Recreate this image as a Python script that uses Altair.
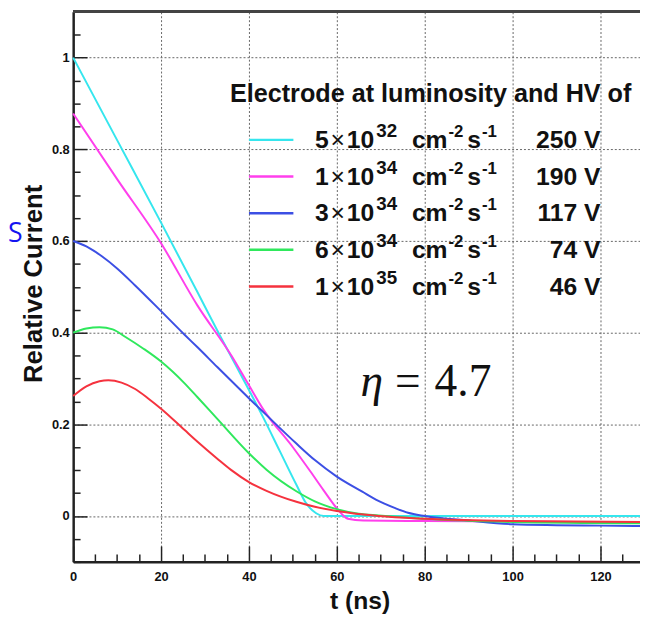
import altair as alt
import pandas as pd

# ---------------- data ----------------
series_names = ["5e32 250 V", "1e34 190 V", "3e34 117 V", "6e34 74 V", "1e35 46 V"]
series_colors = ["#35e6ee", "#ff3fec", "#3c4fe4", "#2fe85c", "#f5323e"]

t_250 = [0, 10, 20, 28.3, 33.6, 40, 43.3, 47, 50.8, 53, 55.3, 57, 70, 90, 110, 129]
v_250 = [1.0, 0.82, 0.64, 0.488, 0.39, 0.275, 0.214, 0.142, 0.068, 0.028, 0.006, 0.0, 0.0, 0.0, 0.0, 0.0]

t_190 = [0, 10, 20, 28.3, 36, 40, 43.3, 50, 54, 57, 60, 62.5, 66, 80, 100, 129]
v_190 = [0.878, 0.735, 0.595, 0.459, 0.35, 0.285, 0.232, 0.15, 0.097, 0.056, 0.017, -0.006, -0.010, -0.011, -0.012, -0.014]

t_117 = [0, 3, 6.6, 10, 14.1, 20, 25.3, 28.3, 32.8, 40, 44, 50.8, 55, 60, 65.8, 69, 73.3, 76.2, 80, 90, 100, 110, 120, 129]
v_117 = [0.6, 0.588, 0.566, 0.54, 0.503, 0.447, 0.396, 0.368, 0.325, 0.257, 0.22, 0.158, 0.122, 0.086, 0.053, 0.035, 0.017, 0.007, 0.0, -0.010, -0.018, -0.020, -0.021, -0.022]

t_74 = [0, 3, 6, 9, 12, 16, 20, 25.3, 28.3, 32.8, 40, 44, 50.8, 55, 60, 65, 69.5, 80, 100, 129]
v_74 = [0.4, 0.409, 0.412, 0.407, 0.39, 0.365, 0.337, 0.29, 0.259, 0.212, 0.137, 0.101, 0.054, 0.032, 0.015, 0.005, 0.001, -0.006, -0.013, -0.016]

t_46 = [0, 3, 6, 8, 11, 14.1, 17, 20, 25.3, 28.3, 32.8, 36, 40, 44, 50.8, 55, 60, 69.5, 80, 100, 129]
v_46 = [0.262, 0.283, 0.294, 0.296, 0.291, 0.277, 0.257, 0.234, 0.188, 0.162, 0.125, 0.1, 0.074, 0.055, 0.031, 0.02, 0.011, 0.0, -0.006, -0.011, -0.013]

lum_mantissa = ["5", "1", "3", "6", "1"]
lum_exponent = ["32", "34", "34", "34", "35"]
hv_labels = ["250 V", "190 V", "117 V", "74 V", "46 V"]
legend_title = "Electrode at luminosity and HV of"

x_major = [0, 20, 40, 60, 80, 100, 120]
y_major = [0, 0.2, 0.4, 0.6, 0.8, 1.0]
x_minor = list(range(0, 130, 5))
y_minor = [round(-0.1 + 0.05 * i, 2) for i in range(25)]

# ---------------- build ----------------
all_t = [t_250, t_190, t_117, t_74, t_46]
all_v = [v_250, v_190, v_117, v_74, v_46]
rows = []
for name, ts, vs in zip(series_names, all_t, all_v):
    for t, v in zip(ts, vs):
        rows.append({"series": name, "t": t, "v": v})
df = pd.DataFrame(rows)

W, H = 574, 557
FONT = "Liberation Sans"
xscale = alt.Scale(domain=[0, 129], nice=False, zero=False)
yscale = alt.Scale(domain=[-0.1, 1.1], nice=False, zero=False)
cscale = alt.Scale(domain=series_names, range=series_colors)

lines = alt.Chart(df).mark_line(strokeWidth=2, interpolate="monotone").encode(
    x=alt.X("t:Q", scale=xscale, axis=alt.Axis(
        values=x_major, grid=True, gridDash=[2, 2], gridColor="#666", gridWidth=1,
        ticks=False, domain=True, domainWidth=2.5, domainColor="#222",
        labelFont=FONT, labelFontWeight="bold", labelFontSize=13, labelColor="#111",
        labelPadding=9, labelFlush=False, labelOverlap=False,
        title="t (ns)", titleFont=FONT, titleFontSize=25, titleFontWeight="bold",
        titleColor="#111", titleX=290, titleY=47, titleBaseline="alphabetic")),
    y=alt.Y("v:Q", scale=yscale, axis=alt.Axis(
        values=y_major, format="~g", grid=True, gridDash=[2, 2], gridColor="#666", gridWidth=1,
        ticks=False, domain=True, domainWidth=2.5, domainColor="#222",
        labelFont=FONT, labelFontWeight="bold", labelFontSize=13, labelColor="#111",
        labelPadding=4, labelFlush=False, labelOverlap=False,
        title="Relative Current", titleFont=FONT, titleFontSize=26, titleFontWeight="bold",
        titleColor="#111", titleX=-32, titleY=275, titleBaseline="alphabetic")),
    color=alt.Color("series:N", scale=cscale, legend=None),
)

xticks = alt.Chart(df).mark_point(opacity=0).encode(
    x=alt.X("t:Q", scale=xscale, axis=alt.Axis(
        orient="top", offset=-H, values=x_minor, labels=False, domain=False, grid=False,
        ticks=True, tickColor="#222", tickWidth=1.5, title=None,
        tickSize={"condition": {"test": "datum.value % 20 === 0", "value": 16}, "value": 8})),
    y=alt.Y("v:Q", scale=yscale, axis=None),
)

yticks = alt.Chart(df).mark_point(opacity=0).encode(
    x=alt.X("t:Q", scale=xscale, axis=None),
    y=alt.Y("v:Q", scale=yscale, axis=alt.Axis(
        orient="right", offset=-W, values=y_minor, labels=False, domain=False, grid=False,
        ticks=True, tickColor="#222", tickWidth=1.5, title=None,
        tickSize={"condition": {"test": "abs(datum.value / 0.2 - round(datum.value / 0.2)) < 0.01",
                                "value": 14}, "value": 7})),
)

frame_top = alt.Chart(df).mark_rule(color="#444", strokeWidth=2).encode(
    y=alt.value(0)
)

leg = pd.DataFrame({"idx": list(range(5)), "series": series_names, "mant": lum_mantissa,
                    "exp": lum_exponent, "hv": hv_labels})
base_leg = alt.Chart(leg).transform_calculate(
    sy="129.7 + 37.1 * datum.idx", by="138 + 37.1 * datum.idx", supy="127 + 37.1 * datum.idx"
)
ya = alt.Y("sy:Q", scale=None, axis=None)
yb = alt.Y("by:Q", scale=None, axis=None)
ys = alt.Y("supy:Q", scale=None, axis=None)

swatch = base_leg.mark_rule(strokeWidth=2.5).encode(
    x=alt.value(178), x2=alt.value(223), y=ya,
    color=alt.Color("series:N", scale=cscale, legend=None))

def txt(x, y, size, align="left", weight="bold", text=None, field=None):
    kw = dict(align=align, baseline="alphabetic", font=FONT, fontSize=size,
              fontWeight=weight, color="#111")
    if text is not None:
        kw["text"] = text
    m = base_leg.mark_text(**kw)
    enc = dict(x=alt.value(x), y=y)
    if field is not None:
        enc["text"] = alt.Text(field + ":N")
    return m.encode(**enc)

leg_layers = [
    swatch,
    txt(245, yb, 25, field="mant"),
    txt(268, yb, 25, align="center", weight="normal", text="×"),
    txt(277, yb, 25, text="10"),
    txt(307, ys, 19, field="exp"),
    txt(343, yb, 25, text="cm"),
    txt(380, ys, 17, text="-2"),
    txt(399, yb, 25, text="s"),
    txt(414, ys, 17, text="-1"),
    txt(534, yb, 25, align="right", field="hv"),
]

title_df = pd.DataFrame({"label": [legend_title]})
leg_title = alt.Chart(title_df).mark_text(
    align="center", baseline="alphabetic", font=FONT, fontSize=25.5, fontWeight="bold", color="#111"
).encode(text="label:N", x=alt.value(362), y=alt.value(91))

ann_df = pd.DataFrame({"eta": ["η"], "eq": ["="], "val": ["4.7"], "s": ["S"]})
eta = alt.Chart(ann_df).mark_text(align="left", baseline="alphabetic", font="Liberation Serif",
                                  fontSize=46, fontStyle="italic", color="#111").encode(
    text="eta:N", x=alt.value(291), y=alt.value(389))
eq = alt.Chart(ann_df).mark_text(align="left", baseline="alphabetic", font="Liberation Serif",
                                 fontSize=46, color="#111").encode(
    text="eq:N", x=alt.value(326), y=alt.value(389))
val = alt.Chart(ann_df).mark_text(align="left", baseline="alphabetic", font="Liberation Serif",
                                  fontSize=46, color="#111").encode(
    text="val:N", x=alt.value(366), y=alt.value(389))
blue_s = alt.Chart(ann_df).mark_text(align="left", baseline="alphabetic", font="Open Sans",
                                     fontSize=27, color="#1414f0").encode(
    text="s:N", x=alt.value(-66), y=alt.value(233))

chart = alt.layer(
    lines, xticks, yticks, frame_top, *leg_layers, leg_title, eta, eq, val, blue_s
).resolve_axis(x="independent", y="independent").properties(
    width=W, height=H,
    autosize=alt.AutoSizeParams(type="none"),
    padding={"left": 66, "top": 0, "right": 0, "bottom": 50},
    background="white",
).configure_view(stroke=None)

chart.save("out.html", embed_options={"renderer": "svg", "actions": False})
